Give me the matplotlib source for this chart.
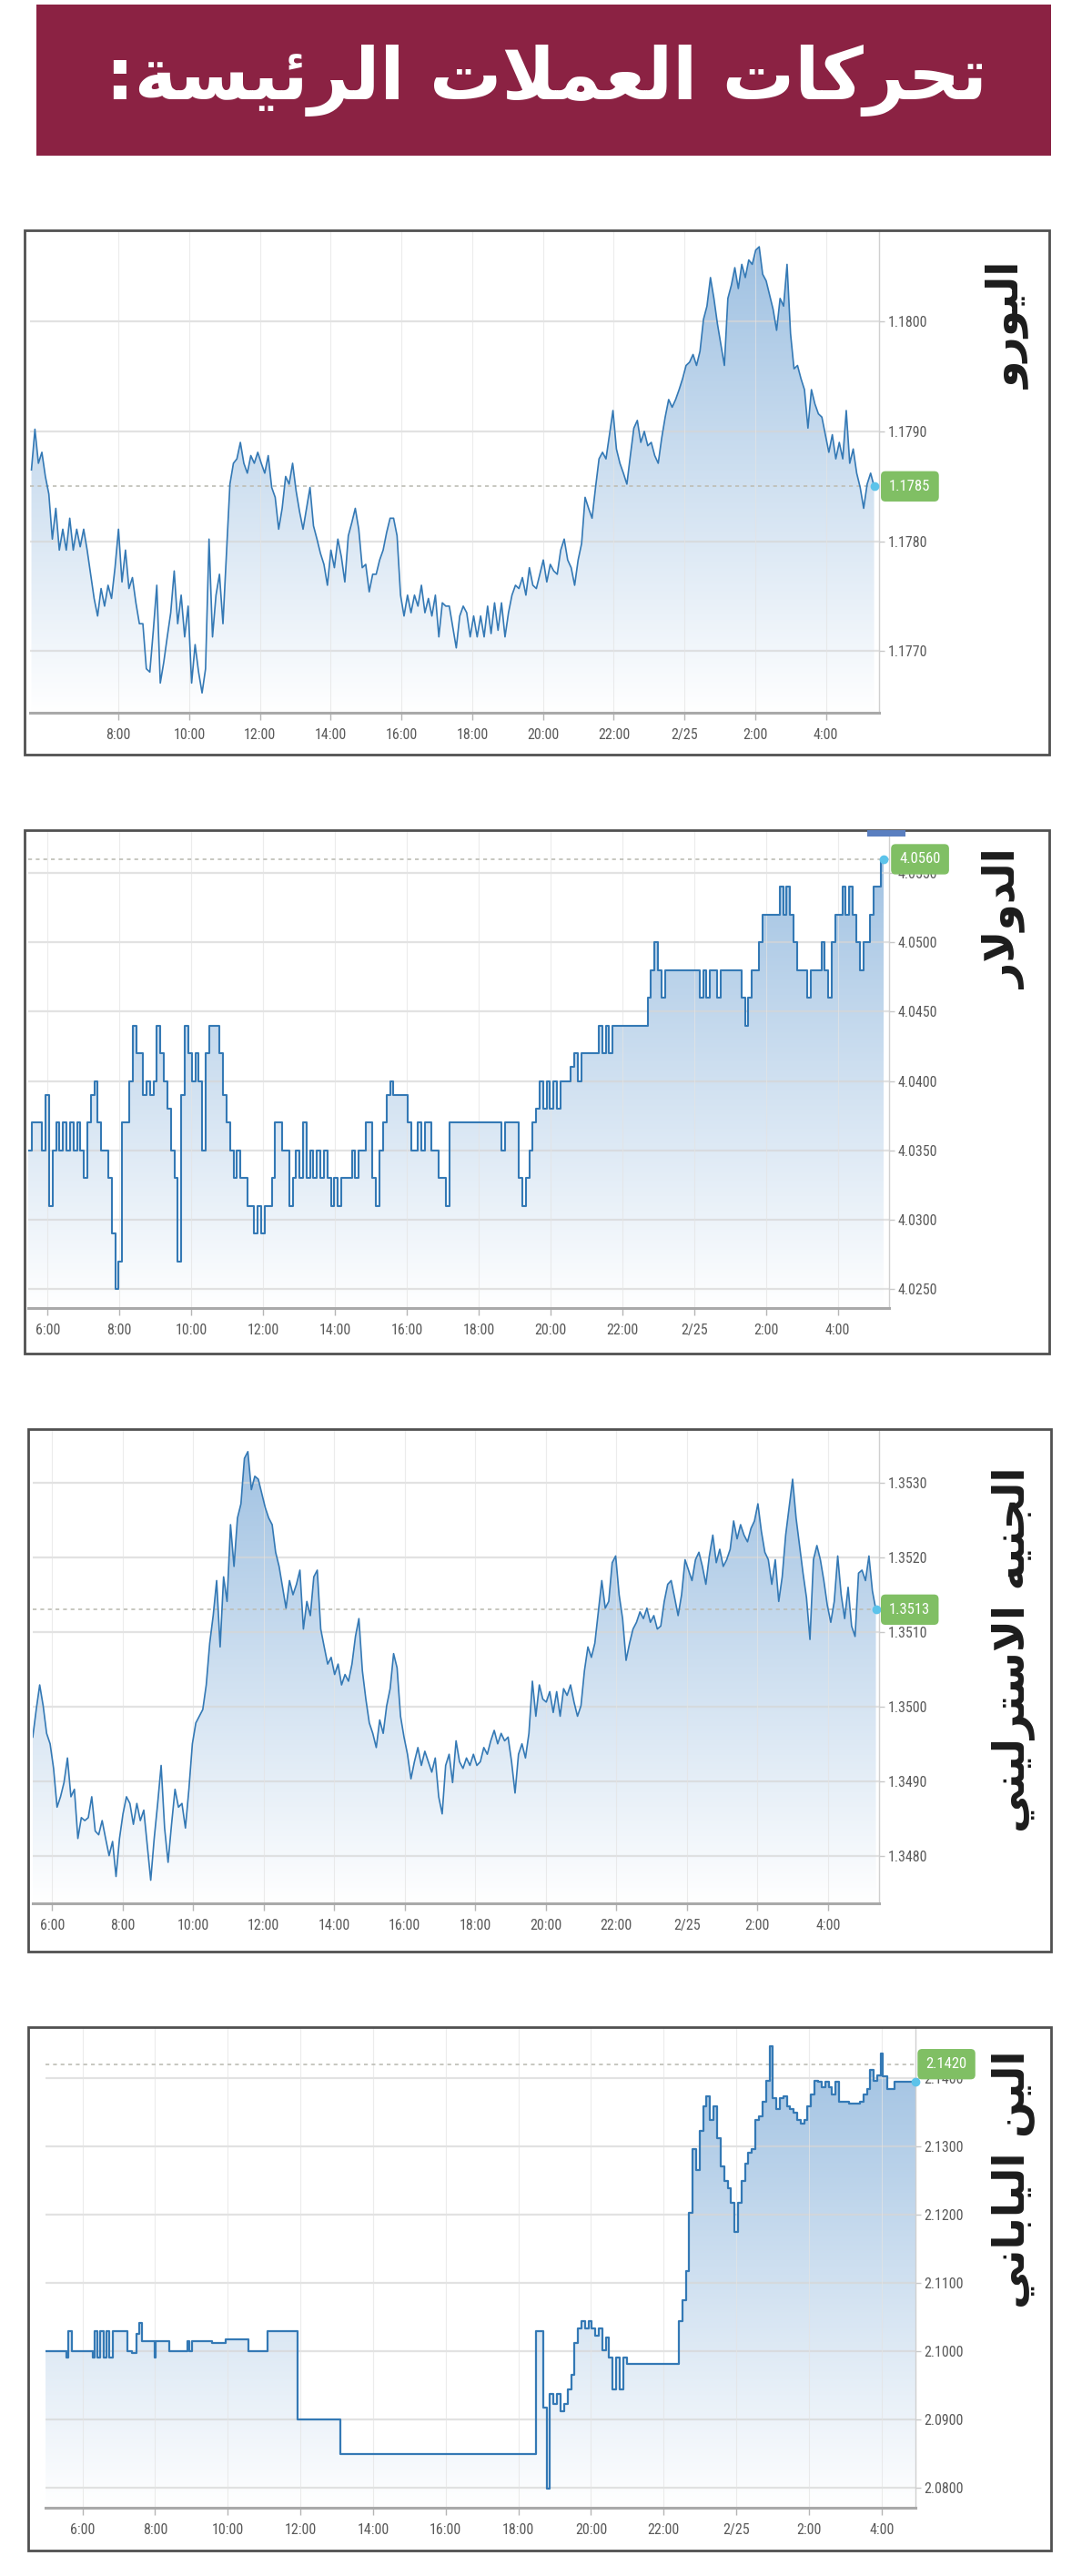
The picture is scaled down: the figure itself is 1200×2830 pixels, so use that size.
import numpy as np
import matplotlib
matplotlib.use('Agg')
import matplotlib.pyplot as plt
from matplotlib import font_manager
from matplotlib.patches import Rectangle
from matplotlib.colors import LinearSegmentedColormap
from matplotlib.transforms import blended_transform_factory

W, H = 1200, 2830

# ---------------- data ----------------
title = 'تحركات العملات الرئيسة:'

tick_hours = [6, 8, 10, 12, 14, 16, 18, 20, 22, 24, 26, 28]
tick_labels = ['6:00', '8:00', '10:00', '12:00', '14:00', '16:00', '18:00',
               '20:00', '22:00', '2/25', '2:00', '4:00']

# euro, regular samples from 5:32 to 5:22 next day
euro_label = 'اليورو'
euro_span = (5.54, 29.36)
euro = [1.17865, 1.17902, 1.17871, 1.17881, 1.17859, 1.17843, 1.17802, 1.17830, 1.17792, 1.17811,
        1.17792, 1.17821, 1.17792, 1.17811, 1.17795, 1.17811, 1.17792, 1.17770, 1.17748, 1.17732,
        1.17757, 1.17741, 1.17760, 1.17748, 1.17776, 1.17811, 1.17763, 1.17792, 1.17757, 1.17767,
        1.17744, 1.17725, 1.17725, 1.17684, 1.17681, 1.17719, 1.17760, 1.17671, 1.17690, 1.17713,
        1.17735, 1.17773, 1.17725, 1.17751, 1.17713, 1.17741, 1.17671, 1.17706, 1.17681, 1.17662,
        1.17684, 1.17802, 1.17713, 1.17751, 1.17770, 1.17725, 1.17789, 1.17852, 1.17871, 1.17875,
        1.17890, 1.17871, 1.17862, 1.17878, 1.17871, 1.17881, 1.17871, 1.17862, 1.17878, 1.17849,
        1.17840, 1.17811, 1.17830, 1.17859, 1.17852, 1.17871, 1.17846, 1.17827, 1.17811, 1.17830,
        1.17849, 1.17814, 1.17802, 1.17789, 1.17779, 1.17760, 1.17792, 1.17776, 1.17802, 1.17786,
        1.17763, 1.17805, 1.17817, 1.17830, 1.17811, 1.17776, 1.17779, 1.17754, 1.17770, 1.17770,
        1.17783, 1.17792, 1.17808, 1.17821, 1.17821, 1.17805, 1.17751, 1.17732, 1.17751, 1.17735,
        1.17751, 1.17741, 1.17760, 1.17735, 1.17748, 1.17732, 1.17751, 1.17713, 1.17744, 1.17741,
        1.17741, 1.17722, 1.17703, 1.17732, 1.17741, 1.17735, 1.17713, 1.17732, 1.17713, 1.17732,
        1.17713, 1.17741, 1.17716, 1.17744, 1.17719, 1.17744, 1.17713, 1.17735, 1.17751, 1.17760,
        1.17757, 1.17767, 1.17751, 1.17776, 1.17760, 1.17757, 1.17770, 1.17783, 1.17763, 1.17779,
        1.17773, 1.17770, 1.17792, 1.17802, 1.17783, 1.17776, 1.17760, 1.17783, 1.17798, 1.17840,
        1.17830, 1.17821, 1.17849, 1.17875, 1.17881, 1.17875, 1.17897, 1.17919, 1.17884, 1.17871,
        1.17862, 1.17852, 1.17878, 1.17903, 1.17910, 1.17890, 1.17900, 1.17887, 1.17890, 1.17878,
        1.17871, 1.17894, 1.17913, 1.17929, 1.17922, 1.17929, 1.17938, 1.17948, 1.17960, 1.17963,
        1.17970, 1.17960, 1.17973, 1.18002, 1.18014, 1.18040, 1.18021, 1.17998, 1.17979, 1.17960,
        1.18021, 1.18033, 1.18049, 1.18030, 1.18052, 1.18040, 1.18056, 1.18052, 1.18065, 1.18068,
        1.18043, 1.18037, 1.18024, 1.18011, 1.17992, 1.18021, 1.18014, 1.18052, 1.17989, 1.17957,
        1.17960, 1.17948, 1.17938, 1.17903, 1.17938, 1.17925, 1.17916, 1.17913, 1.17897, 1.17881,
        1.17897, 1.17875, 1.17890, 1.17875, 1.17919, 1.17871, 1.17884, 1.17862, 1.17849, 1.17830,
        1.17852, 1.17862, 1.17850]
euro_now = 1.1785

# dollar
dollar_label = 'الدولار'
dollar_span = (5.46, 29.29)
dollar = [4.035, 4.037, 4.037, 4.037, 4.035, 4.039, 4.031, 4.035, 4.037, 4.035,
          4.037, 4.035, 4.037, 4.035, 4.037, 4.035, 4.033, 4.037, 4.039, 4.040,
          4.037, 4.035, 4.035, 4.033, 4.029, 4.025, 4.027, 4.037, 4.037, 4.040,
          4.044, 4.042, 4.042, 4.039, 4.040, 4.039, 4.040, 4.044, 4.042, 4.040,
          4.038, 4.035, 4.033, 4.027, 4.039, 4.044, 4.042, 4.040, 4.042, 4.040,
          4.035, 4.042, 4.044, 4.044, 4.044, 4.042, 4.039, 4.037, 4.035, 4.033,
          4.035, 4.033, 4.033, 4.031, 4.031, 4.029, 4.031, 4.029, 4.031, 4.031,
          4.033, 4.037, 4.037, 4.035, 4.035, 4.031, 4.033, 4.035, 4.033, 4.037,
          4.033, 4.035, 4.033, 4.035, 4.033, 4.035, 4.033, 4.031, 4.033, 4.031,
          4.033, 4.033, 4.033, 4.035, 4.033, 4.035, 4.035, 4.037, 4.037, 4.033,
          4.031, 4.035, 4.037, 4.039, 4.040, 4.039, 4.039, 4.039, 4.039, 4.037,
          4.035, 4.035, 4.037, 4.035, 4.037, 4.037, 4.035, 4.035, 4.033, 4.033,
          4.031, 4.037, 4.037, 4.037, 4.037, 4.037, 4.037, 4.037, 4.037, 4.037,
          4.037, 4.037, 4.037, 4.037, 4.037, 4.037, 4.035, 4.037, 4.037, 4.037,
          4.037, 4.033, 4.031, 4.033, 4.035, 4.037, 4.038, 4.040, 4.038, 4.040,
          4.038, 4.040, 4.038, 4.040, 4.040, 4.040, 4.041, 4.042, 4.040, 4.042,
          4.042, 4.042, 4.042, 4.042, 4.044, 4.042, 4.044, 4.042, 4.044, 4.044,
          4.044, 4.044, 4.044, 4.044, 4.044, 4.044, 4.044, 4.044, 4.046, 4.048,
          4.050, 4.048, 4.046, 4.048, 4.048, 4.048, 4.048, 4.048, 4.048, 4.048,
          4.048, 4.048, 4.048, 4.046, 4.048, 4.046, 4.048, 4.048, 4.046, 4.048,
          4.048, 4.048, 4.048, 4.048, 4.048, 4.046, 4.044, 4.046, 4.048, 4.048,
          4.050, 4.052, 4.052, 4.052, 4.052, 4.052, 4.054, 4.052, 4.054, 4.052,
          4.050, 4.048, 4.048, 4.048, 4.046, 4.048, 4.048, 4.048, 4.050, 4.048,
          4.046, 4.050, 4.052, 4.052, 4.054, 4.052, 4.054, 4.052, 4.050, 4.048,
          4.050, 4.050, 4.052, 4.054, 4.054, 4.056, 4.056]
dollar_now = 4.0560

# pound sterling
gbp_label = 'الجنيه الاسترليني'
gbp_span = (5.45, 29.36)
gbp = [1.34959, 1.34996, 1.35029, 1.35001, 1.34964, 1.34950, 1.34917, 1.34865, 1.34879, 1.34898,
       1.34931, 1.34879, 1.34889, 1.34823, 1.34851, 1.34847, 1.34851, 1.34879, 1.34833, 1.34828,
       1.34847, 1.34823, 1.34800, 1.34819, 1.34772, 1.34823, 1.34856, 1.34879, 1.34870, 1.34842,
       1.34870, 1.34847, 1.34861, 1.34814, 1.34767, 1.34823, 1.34870, 1.34921, 1.34837, 1.34791,
       1.34842, 1.34889, 1.34865, 1.34870, 1.34837, 1.34889, 1.34950, 1.34978, 1.34987, 1.34996,
       1.35029, 1.35085, 1.35122, 1.35169, 1.35080, 1.35174, 1.35141, 1.35244, 1.35188, 1.35253,
       1.35272, 1.35333, 1.35342, 1.35291, 1.35309, 1.35305, 1.35286, 1.35267, 1.35253, 1.35244,
       1.35207, 1.35188, 1.35160, 1.35132, 1.35169, 1.35150, 1.35164, 1.35183, 1.35104, 1.35141,
       1.35122, 1.35174, 1.35183, 1.35104, 1.35080, 1.35057, 1.35066, 1.35043, 1.35057, 1.35029,
       1.35043, 1.35034, 1.35057, 1.35094, 1.35118, 1.35048, 1.35010, 1.34978, 1.34964, 1.34945,
       1.34982, 1.34964, 1.35001, 1.35024, 1.35071, 1.35052, 1.34987, 1.34959, 1.34936, 1.34903,
       1.34926, 1.34945, 1.34921, 1.34940, 1.34926, 1.34912, 1.34931, 1.34879, 1.34856, 1.34921,
       1.34936, 1.34898, 1.34954, 1.34926, 1.34917, 1.34931, 1.34921, 1.34936, 1.34921, 1.34926,
       1.34945, 1.34936, 1.34954, 1.34968, 1.34950, 1.34964, 1.34954, 1.34959, 1.34926, 1.34884,
       1.34936, 1.34950, 1.34931, 1.34964, 1.35034, 1.34987, 1.35029, 1.35010, 1.35006, 1.35020,
       1.34992, 1.35020, 1.34987, 1.35024, 1.35015, 1.35029, 1.35006, 1.34987, 1.35001, 1.35048,
       1.35080, 1.35066, 1.35085, 1.35127, 1.35169, 1.35132, 1.35141, 1.35193, 1.35202, 1.35150,
       1.35118, 1.35062, 1.35085, 1.35104, 1.35113, 1.35127, 1.35118, 1.35132, 1.35113, 1.35122,
       1.35104, 1.35108, 1.35141, 1.35164, 1.35169, 1.35146, 1.35122, 1.35150, 1.35197, 1.35183,
       1.35169, 1.35197, 1.35207, 1.35188, 1.35164, 1.35202, 1.35230, 1.35193, 1.35211, 1.35188,
       1.35197, 1.35211, 1.35249, 1.35225, 1.35244, 1.35230, 1.35221, 1.35239, 1.35249, 1.35272,
       1.35235, 1.35207, 1.35197, 1.35164, 1.35197, 1.35141, 1.35174, 1.35230, 1.35267, 1.35305,
       1.35253, 1.35216, 1.35179, 1.35146, 1.35090, 1.35197, 1.35216, 1.35197, 1.35169, 1.35136,
       1.35113, 1.35141, 1.35202, 1.35150, 1.35118, 1.35160, 1.35108, 1.35094, 1.35179, 1.35183,
       1.35169, 1.35202, 1.35155, 1.35130]
gbp_now = 1.3513

# japanese yen, change points (hour, rate)
jpy_label = 'الين الياباني'
jpy_hours = [4.98, 5.56, 5.62, 5.70, 6.28, 6.35, 6.42, 6.50, 6.58, 6.66, 6.75, 6.85, 7.24, 7.36,
             7.49, 7.57, 7.65, 7.99, 8.02, 8.40, 8.90, 8.95, 9.03, 9.56, 9.94, 10.56, 11.10, 11.93,
             13.09, 18.49, 18.68, 18.78, 18.87, 18.97, 19.07, 19.16, 19.26, 19.35, 19.45, 19.54,
             19.64, 19.74, 19.83, 19.93, 20.02, 20.12, 20.21, 20.31, 20.41, 20.50, 20.60, 20.69,
             20.79, 20.89, 20.98, 22.42, 22.51, 22.61, 22.70, 22.80, 22.90, 22.99, 23.09, 23.18,
             23.28, 23.38, 23.47, 23.57, 23.66, 23.76, 23.85, 23.95, 24.05, 24.14, 24.24, 24.33,
             24.43, 24.52, 24.62, 24.72, 24.81, 24.91, 25.00, 25.10, 25.20, 25.29, 25.39, 25.48,
             25.58, 25.67, 25.77, 25.87, 25.96, 26.06, 26.15, 26.25, 26.34, 26.44, 26.54, 26.63,
             26.73, 26.82, 27.11, 27.40, 27.49, 27.59, 27.69, 27.78, 27.87, 27.97, 28.03, 28.16,
             28.36, 28.93]
jpy = [2.1000, 2.0991, 2.1030, 2.1000, 2.0991, 2.1030, 2.0991, 2.1030, 2.0991, 2.1030, 2.0991,
       2.1030, 2.1000, 2.0997, 2.1025, 2.1041, 2.1015, 2.0991, 2.1015, 2.1000, 2.1015, 2.1000,
       2.1015, 2.1012, 2.1017, 2.1000, 2.1030, 2.0900, 2.0850, 2.1030, 2.0917, 2.0799, 2.0938,
       2.0923, 2.0938, 2.0912, 2.0923, 2.0944, 2.0965, 2.1012, 2.1033, 2.1044, 2.1033, 2.1044,
       2.1033, 2.1023, 2.1033, 2.1002, 2.1020, 2.0991, 2.0944, 2.0991, 2.0944, 2.0991, 2.0981,
       2.1044, 2.1075, 2.1117, 2.1202, 2.1296, 2.1265, 2.1323, 2.1359, 2.1373, 2.1338, 2.1359,
       2.1312, 2.1270, 2.1249, 2.1238, 2.1217, 2.1175, 2.1217, 2.1249, 2.1275, 2.1291, 2.1296,
       2.1338, 2.1344, 2.1365, 2.1396, 2.1446, 2.1370, 2.1354, 2.1370, 2.1373, 2.1359, 2.1354,
       2.1349, 2.1338, 2.1333, 2.1338, 2.1359, 2.1375, 2.1396, 2.1394, 2.1386, 2.1394, 2.1386,
       2.1375, 2.1394, 2.1365, 2.1362, 2.1365, 2.1375, 2.1383, 2.1412, 2.1396, 2.1404, 2.1436,
       2.1402, 2.1383, 2.1394, 2.1394]
jpy_now = 2.1420

# ---------------- arabic shaping (matplotlib has no shaping engine) ----------------
FORMS = {  # isolated, final, initial, medial
    'ا': (0xFE8D, 0xFE8E, None, None), 'ب': (0xFE8F, 0xFE90, 0xFE91, 0xFE92),
    'ة': (0xFE93, 0xFE94, None, None), 'ت': (0xFE95, 0xFE96, 0xFE97, 0xFE98),
    'ج': (0xFE9D, 0xFE9E, 0xFE9F, 0xFEA0), 'ح': (0xFEA1, 0xFEA2, 0xFEA3, 0xFEA4),
    'د': (0xFEA9, 0xFEAA, None, None), 'ر': (0xFEAD, 0xFEAE, None, None),
    'س': (0xFEB1, 0xFEB2, 0xFEB3, 0xFEB4), 'ع': (0xFEC9, 0xFECA, 0xFECB, 0xFECC),
    'ك': (0xFED9, 0xFEDA, 0xFEDB, 0xFEDC), 'ل': (0xFEDD, 0xFEDE, 0xFEDF, 0xFEE0),
    'م': (0xFEE1, 0xFEE2, 0xFEE3, 0xFEE4), 'ن': (0xFEE5, 0xFEE6, 0xFEE7, 0xFEE8),
    'ه': (0xFEE9, 0xFEEA, 0xFEEB, 0xFEEC), 'و': (0xFEED, 0xFEEE, None, None),
    'ي': (0xFEF1, 0xFEF2, 0xFEF3, 0xFEF4), 'ئ': (0xFE89, 0xFE8A, 0xFE8B, 0xFE8C),
}


def shape(text):
    chars = []
    i = 0
    while i < len(text):
        if text[i] == 'ل' and i + 1 < len(text) and text[i + 1] == 'ا':
            chars.append('LA')
            i += 2
        else:
            chars.append(text[i])
            i += 1
    out = []
    for i, c in enumerate(chars):
        prev = chars[i - 1] if i > 0 else None
        nxt = chars[i + 1] if i + 1 < len(chars) else None
        after = prev in FORMS and FORMS[prev][2] is not None
        if c == 'LA':
            out.append(chr(0xFEFC if after else 0xFEFB))
            continue
        if c not in FORMS:
            out.append(c)
            continue
        iso, fin, ini, med = FORMS[c]
        before = ini is not None and (nxt in FORMS or nxt == 'LA')
        if after and before:
            out.append(chr(med))
        elif after:
            out.append(chr(fin))
        elif before:
            out.append(chr(ini))
        else:
            out.append(chr(iso))
    return ''.join(reversed(out))


# ---------------- fonts ----------------
# the source chart uses a narrow face for its axis labels; take one if there is any
ttf = font_manager.fontManager.ttflist
installed = {f.name for f in ttf}
NARROW, STRETCH, TICK_FS = 'DejaVu Sans', 'normal', 9.5
for cand in ['Liberation Sans Narrow', 'Roboto Condensed', 'Open Sans Condensed']:
    if cand in installed:
        NARROW, STRETCH, TICK_FS = cand, 'normal', 11.5
        break
else:
    if any(f.name == 'DejaVu Sans' and f.stretch == 'condensed' for f in ttf):
        STRETCH, TICK_FS = 'condensed', 10.5
    elif any(f.name == 'Roboto' and f.stretch == 'condensed' for f in ttf):
        NARROW, STRETCH, TICK_FS = 'Roboto', 'condensed', 11.5

fill_cmap = LinearSegmentedColormap.from_list('fill', ['#ffffff', '#9cbfe1'])
LINE = '#3479b5'


def px_rect(l, t, r, b):
    return [l / W, 1 - b / H, (r - l) / W, (b - t) / H]


def frame(l, t, r, b):
    fig.add_artist(Rectangle((l / W, 1 - b / H), (r - l) / W, (b - t) / H, transform=fig.transFigure,
                             fill=False, ec='#505050', lw=2))


def panel(rect, x, y, xlim, ylim, yticks, xticks, xlabels, now, step=False, lw=1.2):
    ax = fig.add_axes(px_rect(*rect))
    ax.set_xlim(*xlim)
    ax.set_ylim(*ylim)
    ds = 'steps-post' if step else 'default'
    poly = ax.fill_between(x, y, ylim[0], step='post' if step else None, color='none', lw=0)
    grad = np.linspace(0, 1, 256).reshape(-1, 1)
    img = ax.imshow(grad, extent=[xlim[0], xlim[1], ylim[0], ylim[1]], origin='lower',
                    aspect='auto', cmap=fill_cmap, zorder=1)
    img.set_clip_path(poly.get_paths()[0], transform=ax.transData)
    for yt in yticks:
        ax.axhline(yt, color='#d6d6d6', lw=1.6, alpha=0.7, zorder=2)
    for xt in xticks:
        ax.axvline(xt, color='#e4e4e4', lw=0.8, alpha=0.7, zorder=2)
    ax.plot(x, y, color=LINE, lw=lw, drawstyle=ds, zorder=3)
    ax.axhline(now, color='#bdbdb5', lw=1.2, ls=(0, (2.5, 2.5)), zorder=2.5)
    ax.plot(x[-1], y[-1], 'o', color='#5cc3ea', ms=6, zorder=6, clip_on=False)

    ax.set_yticks(yticks)
    ax.set_yticklabels(['%.4f' % v for v in yticks])
    ax.set_xticks(xticks)
    ax.set_xticklabels(xlabels)
    ax.yaxis.tick_right()
    for s in ['top', 'left']:
        ax.spines[s].set_visible(False)
    ax.spines['bottom'].set_color('#a9a9a9')
    ax.spines['bottom'].set_linewidth(2.2)
    ax.spines['right'].set_color('#d0d0d0')
    ax.spines['right'].set_linewidth(1)
    ax.tick_params(axis='x', length=6, width=1, color='#b5b5b5', pad=6, labelsize=TICK_FS,
                   labelcolor='#5a5a5a')
    ax.tick_params(axis='y', length=4, width=1, color='#c8c8c8', pad=3, labelsize=TICK_FS,
                   labelcolor='#5a5a5a')
    for lab in ax.get_xticklabels() + ax.get_yticklabels():
        lab.set_family(NARROW)
        lab.set_fontstretch(STRETCH)
    ax.set_facecolor('white')

    tr = blended_transform_factory(ax.transAxes, ax.transData)
    ax.text(1.012, now, '%.4f' % now, transform=tr, ha='left', va='center', color='white',
            fontsize=TICK_FS + 0.5, family=NARROW, fontstretch=STRETCH, zorder=10, clip_on=False,
            bbox=dict(boxstyle='round,pad=0.55,rounding_size=0.3', fc='#80bf64', ec='none'))
    return ax


fig = plt.figure(figsize=(W / 100, H / 100), dpi=100)
fig.patch.set_facecolor('white')

# title banner
fig.add_artist(Rectangle((40 / W, 1 - 171 / H), 1115 / W, 166 / H, transform=fig.transFigure,
                         fc='#8b2243', ec='none'))
fig.text(600 / W, 1 - 88 / H, shape(title), ha='center', va='center', color='white',
         fontsize=57, fontweight='bold', family='DejaVu Sans')

# euro
frame(27, 253, 1153, 829)
e_x = np.linspace(euro_span[0], euro_span[1], len(euro))
panel((33, 253, 966, 783), e_x, euro, (5.50, 29.50), (1.17644, 1.18083),
      [1.1770, 1.1780, 1.1790, 1.1800], tick_hours[1:], tick_labels[1:], euro_now)
fig.text(1108 / W, 1 - 357 / H, shape(euro_label), rotation=90, ha='center', va='center',
         fontsize=34, fontweight='bold', color='#1c1c1c')

# dollar
frame(27, 912, 1153, 1487)
d_x = np.linspace(dollar_span[0], dollar_span[1], len(dollar))
panel((31, 912, 977, 1437), d_x, dollar, (5.46, 29.43), (4.02362, 4.0581),
      [4.0250, 4.0300, 4.0350, 4.0400, 4.0450, 4.0500, 4.0550], tick_hours, tick_labels,
      dollar_now, step=True, lw=1.5)
fig.add_artist(Rectangle((953 / W, 1 - 919 / H), 42 / W, 7 / H, transform=fig.transFigure,
                         fc='#5a7fc0', ec='none'))
fig.text(1104 / W, 1 - 1010 / H, shape(dollar_label), rotation=90, ha='center', va='center',
         fontsize=34, fontweight='bold', color='#1c1c1c')

# pound
frame(31, 1570, 1155, 2144)
g_x = np.linspace(gbp_span[0], gbp_span[1], len(gbp))
panel((36, 1571, 966, 2091), g_x, gbp, (5.45, 29.45), (1.34736, 1.35371),
      [1.3480, 1.3490, 1.3500, 1.3510, 1.3520, 1.3530], tick_hours, tick_labels, gbp_now)
fig.text(1113 / W, 1 - 1812 / H, shape(gbp_label), rotation=90, ha='center', va='center',
         fontsize=34, fontweight='bold', color='#1c1c1c')

# yen
frame(31, 2227, 1155, 2802)
panel((50, 2227, 1006, 2755), np.array(jpy_hours), jpy, (4.985, 28.93), (2.07711, 2.14742),
      [2.0800, 2.0900, 2.1000, 2.1100, 2.1200, 2.1300, 2.1400], tick_hours, tick_labels,
      jpy_now, step=True, lw=1.6)
fig.text(1113 / W, 1 - 2394 / H, shape(jpy_label), rotation=90, ha='center', va='center',
         fontsize=34, fontweight='bold', color='#1c1c1c')

fig.savefig('out.png', dpi=100)
